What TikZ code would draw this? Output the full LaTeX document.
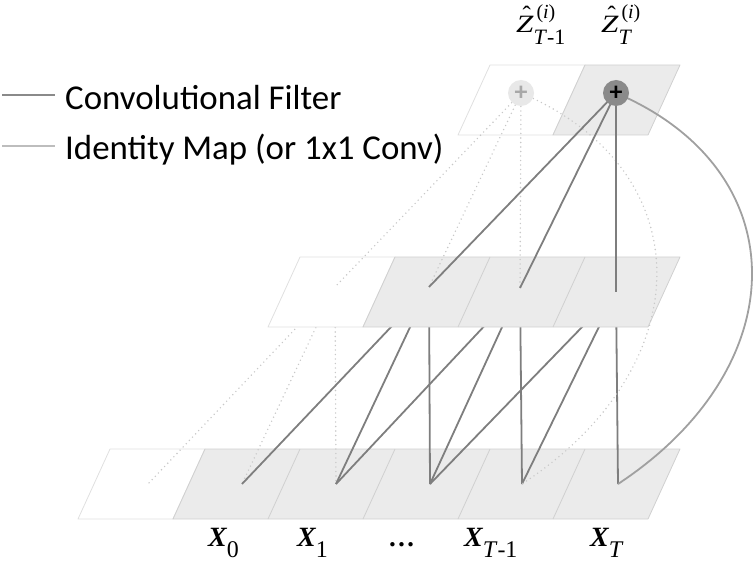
\documentclass[tikz,border=0pt]{standalone}
\usepackage{fontspec}
\setmainfont{Liberation Serif}
\newfontfamily\legendfont{Carlito}
\definecolor{cellgray}{HTML}{EBEBEB}
\definecolor{celledge}{HTML}{D0D0D0}
\definecolor{ghostedge}{HTML}{E0E0E0}
\definecolor{convgray}{HTML}{7E7E7E}
\definecolor{idgray}{HTML}{A0A0A0}
\definecolor{legid}{HTML}{BDBDBD}
\definecolor{dotgray}{HTML}{C8C8C8}
\definecolor{darkplus}{HTML}{8A8A8A}
\definecolor{lightplus}{HTML}{E8E8E8}
\definecolor{lightplustext}{HTML}{A8A8A8}
\newcommand{\hatZ}{\ooalign{\scalebox{1.25}[1]{\itshape Z}\cr\hidewidth\kern0.15em\raisebox{0.40em}{\upshape\char"02C6}\hidewidth\cr}}
\newcommand{\zlabel}[1]{{\fontsize{25}{25}\selectfont\hatZ}\rlap{\kern3bp\raisebox{14bp}{\fontsize{20}{20}\selectfont(\textit{i})}}\raisebox{-12bp}{\fontsize{22}{22}\selectfont #1}}
\newcommand{\xlabel}[1]{{\fontsize{28}{28}\selectfont\bfseries\itshape X}\raisebox{-11bp}{\fontsize{24}{24}\selectfont #1}}
\tikzset{
  cellfill/.style={fill=cellgray, draw=celledge, line width=0.8bp, line join=round},
  divider/.style={draw=celledge, line width=0.8bp},
  ghostcell/.style={fill=white, draw=ghostedge, line width=0.8bp, line join=round},
  conv/.style={draw=convgray, line width=1.8bp},
  ident/.style={draw=idgray, line width=1.8bp},
  ghostline/.style={draw=dotgray, line width=1.6bp, line cap=round, dash pattern=on 0bp off 4.5bp},
  plusdark/.style={circle, fill=darkplus, minimum size=26bp, inner sep=0pt, font=\legendfont\fontsize{26}{26}\selectfont\bfseries},
  pluslight/.style={circle, fill=lightplus, minimum size=26bp, inner sep=0pt, text=lightplustext, font=\legendfont\fontsize{26}{26}\selectfont\bfseries},
  legtext/.style={anchor=base west, font=\legendfont\fontsize{35}{35}\selectfont, inner sep=0pt},
  xlab/.style={anchor=base west, inner sep=0pt},
}
\begin{document}
\begin{tikzpicture}[x=1bp,y=-1bp]
\useasboundingbox (0,0) rectangle (755,561);
% points
\coordinate (bg) at (148,484);
\coordinate (b0) at (242,484);
\coordinate (b1) at (336,484);
\coordinate (b2) at (430,484);
\coordinate (b3) at (522,484);
\coordinate (b4) at (618,484);
\coordinate (m1) at (335,287);
\coordinate (m2) at (429,287);
\coordinate (m3) at (520,288);
\coordinate (m4) at (616,292);
\coordinate (c3) at (521,93);
\coordinate (c4) at (616,93);
% bottom layer
\path[ghostcell] (78,519) -- (110,449) -- (205,449) -- (173,519) -- cycle;
\path[cellfill] (173,519) -- (205,449) -- (680,449) -- (648,519) -- cycle;
\foreach \x in {268,363,458,553} \draw[divider] (\x,519) -- (\x+32,449);
% ghost connections middle -> bottom
\draw[ghostline] (m1) -- (b1);
\draw[ghostline] (m1) -- (b0);
\draw[ghostline] (m1) -- (bg);
% conv connections middle -> bottom
\draw[conv] (m2) -- (b2);
\draw[conv] (m2) -- (b1);
\draw[conv] (m2) -- (b0);
\draw[conv] (m3) -- (b3);
\draw[conv] (m3) -- (b2);
\draw[conv] (m3) -- (b1);
\draw[conv] (m4) -- (b4);
\draw[conv] (m4) -- (b3);
\draw[conv] (m4) -- (b2);
% middle layer
\path[ghostcell] (268,327) -- (300,257) -- (395,257) -- (363,327) -- cycle;
\path[cellfill] (363,327) -- (395,257) -- (680,257) -- (648,327) -- cycle;
\foreach \x in {458,553} \draw[divider] (\x,327) -- (\x+32,257);
% top layer
\path[ghostcell] (458,135) -- (490,65) -- (585,65) -- (553,135) -- cycle;
\path[cellfill] (553,135) -- (585,65) -- (680,65) -- (648,135) -- cycle;
% ghost connections top -> middle / bottom
\draw[ghostline] (c3) -- (m1);
\draw[ghostline] (c3) -- (m2);
\draw[ghostline] (c3) -- (m3);
\draw[ghostline] (c3) .. controls (702,170) and (702,366) .. (b3);
% conv connections top -> middle, identity to bottom
\draw[conv] (c4) -- (m2);
\draw[conv] (c4) -- (m3);
\draw[conv] (c4) -- (m4);
\draw[ident] (c4) .. controls (797,170) and (797,366) .. (b4);
% output nodes
\node[pluslight] (t3) at (c3) {+};
\node[plusdark] (t4) at (c4) {+};
% labels
\node[xlab] (x0) at (208,546) {\xlabel{0}};
\node[xlab] (x1) at (297,546) {\xlabel{1}};
\node[xlab, font=\fontsize{27}{27}\selectfont\bfseries] (xd) at (388,546) {\ldots};
\node[xlab] (xt1) at (464,546) {\xlabel{\textit{T}-1}};
\node[xlab] (xt) at (590,546) {\xlabel{\textit{T}}};
\node[xlab] (z3) at (516,33) {\zlabel{\textit{T}-1}};
\node[xlab] (z4) at (601,33) {\zlabel{\textit{T}}};
% legend
\node[legtext] (leg1) at (65,110) {Convolutional Filter};
\node[legtext] (leg2) at (65,160) {Identity Map (or 1x1 Conv)};
\coordinate (l1) at (2,95);
\coordinate (l2) at (2,146);
\draw[draw=darkplus, line width=2bp] (l1) -- ++(53,0);
\draw[draw=legid, line width=2bp] (l2) -- ++(53,0);
\end{tikzpicture}
\end{document}
